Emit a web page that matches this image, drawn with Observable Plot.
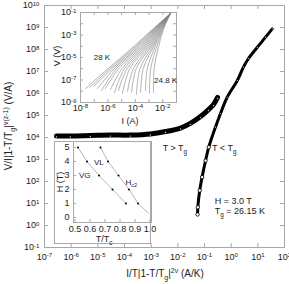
<!DOCTYPE html>
<html><head><meta charset="utf-8">
<script src="https://cdn.jsdelivr.net/npm/d3@7"></script>
<script src="https://cdn.jsdelivr.net/npm/@observablehq/plot@0.6"></script>
<style>
body{margin:0;background:#fff}
#fig{position:relative;width:289px;height:284px;font-family:"Liberation Sans",Arial,sans-serif}
#fig svg{position:absolute;overflow:visible}
</style></head><body><div id="fig"></div>
<script>
// Scaling collapse, log10 of x = I/T|1-T/Tg|^(2nu) and y = V/I|1-T/Tg|^(nu(z-1))
const aboveLogX = [-6.55,-6.03,-5.28,-4.53,-3.78,-3.03,-2.46,-1.90,-1.53,-1.15,-0.85,-0.66,-0.51];
const aboveLogY = [4.07,4.07,4.09,4.11,4.11,4.16,4.27,4.43,4.64,4.95,5.27,5.50,5.82];
const belowLogX = [-1.26,-1.25,-1.18,-1.09,-0.96,-0.84,-0.59,-0.40,-0.15,0.23,0.46,0.65,0.98,1.29,1.54];
const belowLogY = [0.50,0.83,1.59,2.20,2.95,3.56,4.47,5.09,5.83,6.59,7.20,7.59,8.10,8.56,8.94];
const xDecades = [-7,-6,-5,-4,-3,-2,-1,0,1,2];
const yDecades = [-1,0,1,2,3,4,5,6,7,8,9,10];

// I-V isotherms (log10 I in A, log10 V in V), 28 K down to 24.8 K
const ivTemps = [28.0,27.8,27.6,27.4,27.2,27.0,26.8,26.6,26.4,26.2,26.0,25.8,25.6,25.4,25.2,25.0,24.8];
const ivLogI = [
  [-7.64,-6.01,-4.10,-2.75,-1.45],[-7.34,-5.86,-3.98,-2.70,-1.45],[-7.05,-5.71,-3.86,-2.65,-1.45],
  [-6.76,-5.55,-3.74,-2.60,-1.45],[-6.47,-5.39,-3.62,-2.55,-1.45],[-6.18,-5.22,-3.50,-2.50,-1.45],
  [-5.81,-4.99,-3.39,-2.45,-1.45],[-5.52,-4.80,-3.28,-2.40,-1.45],[-5.23,-4.61,-3.17,-2.35,-1.45],
  [-4.94,-4.41,-3.06,-2.30,-1.45],[-4.57,-4.15,-2.95,-2.25,-1.45],[-4.28,-3.94,-2.85,-2.20,-1.45],
  [-3.92,-3.66,-2.75,-2.15,-1.45],[-3.62,-3.43,-2.65,-2.10,-1.45],[-3.26,-3.13,-2.55,-2.05,-1.45],
  [-2.97,-2.88,-2.43,-2.00,-1.45],[-2.68,-2.63,-2.30,-1.95,-1.45]];
const ivLogV = [
  [-7.76,-6,-4,-2.5,-1.1],[-7.67,-6,-4,-2.5,-1.1],[-7.58,-6,-4,-2.5,-1.1],
  [-7.76,-6,-4,-2.5,-1.1],[-7.93,-6,-4,-2.5,-1.1],[-7.76,-6,-4,-2.5,-1.1],
  [-7.84,-6,-4,-2.5,-1.1],[-8.11,-6,-4,-2.5,-1.1],[-7.93,-6,-4,-2.5,-1.1],
  [-8.20,-6,-4,-2.5,-1.1],[-8.02,-6,-4,-2.5,-1.1],[-8.11,-6,-4,-2.5,-1.1],
  [-8.29,-6,-4,-2.5,-1.1],[-8.11,-6,-4,-2.5,-1.1],[-7.93,-6,-4,-2.5,-1.1],
  [-8.20,-6,-4,-2.5,-1.1],[-8.11,-6,-4,-2.5,-1.1]];

// H-T phase diagram
const hgT = [0.52,0.58,0.66,0.75,0.84];
const hgH = [5,4,3,2,1];
const hc2T = [0.67,0.72,0.79,0.86,0.92,0.99];
const hc2H = [5,4,3,2,1,0.3];

const FONT = "Liberation Sans, Arial, sans-serif";
const FRAME = "#a8a8a8";
const INK = "#222";
const pow = e => Math.pow(10, e);
const sci = d => "10^" + Math.round(Math.log10(d));

const above = aboveLogX.map((e, i) => ({x: pow(e), y: pow(aboveLogY[i])}));
const below = belowLogX.map((e, i) => ({x: pow(e), y: pow(belowLogY[i])}));
const iv = ivTemps.flatMap((T, k) => ivLogI[k].map((e, j) => ({T, I: pow(e), V: pow(ivLogV[k][j])})));
const hg = hgT.map((t, i) => ({t, H: hgH[i]}));
const hc2 = hc2T.map((t, i) => ({t, H: hc2H[i]}));

// turn "10^n" tick strings into a base with a raised exponent
function supTicks(svg) {
  d3.select(svg).selectAll("g[aria-label$='tick label'] text").each(function () {
    const t = d3.select(this), s = t.text(), m = s.match(/^10\^(.+)$/);
    if (!m) return;
    t.text(null);
    t.append("tspan").text("10");
    t.append("tspan").attr("dy", "-0.45em").attr("font-size", "0.68em").text(m[1]);
  });
}
// rich text: parts are [string, "sup"|"sub"|""]
function rich(g, x, y, parts, fs, opts = {}) {
  const t = g.append("text").attr("x", x).attr("y", y).attr("font-size", fs)
    .attr("fill", INK).attr("font-family", FONT).attr("text-anchor", opts.anchor || "start");
  if (opts.rotate) t.attr("transform", `rotate(-90,${x},${y})`);
  let shift = 0;
  for (const [s, k] of parts) {
    const target = k === "sup" ? -fs * 0.42 : k === "sub" ? fs * 0.3 : 0;
    const ts = t.append("tspan").text(s).attr("dy", target - shift);
    if (k) ts.attr("font-size", fs * 0.7);
    shift = target;
  }
  return t;
}

const W = 289, H = 284;
const main = Plot.plot({
  width: W, height: H, marginLeft: 44, marginRight: 5, marginTop: 5, marginBottom: 37,
  style: {fontFamily: FONT, fontSize: "9px", color: INK, background: "transparent"},
  x: {type: "log", domain: [1e-7, 1e2]},
  y: {type: "log", domain: [1e-1, 1e10]},
  marks: [
    Plot.frame({stroke: FRAME}),
    Plot.tickY(yDecades.map(pow), {y: d => d, insetRight: 236, stroke: FRAME}),
    Plot.tickY(yDecades.map(pow), {y: d => d, insetLeft: 236, stroke: FRAME}),
    Plot.tickX(xDecades.map(pow), {x: d => d, insetTop: 238, stroke: FRAME}),
    Plot.tickX(xDecades.map(pow), {x: d => d, insetBottom: 238, stroke: FRAME}),
    Plot.axisY(yDecades.map(pow), {tickSize: 0, tickPadding: 5, tickFormat: sci, label: null}),
    Plot.axisX(xDecades.map(pow), {tickSize: 0, tickPadding: 6, tickFormat: sci, label: null}),
    Plot.line(above, {x: "x", y: "y", stroke: "#000", strokeWidth: 5, curve: "catmull-rom"}),
    Plot.dot(above, {x: "x", y: "y", r: 0.7, fill: "#ccc", dy: 1}),
    Plot.line(below, {x: "x", y: "y", stroke: "#000", strokeWidth: 3, curve: "catmull-rom"}),
    Plot.dot(below.filter(d => d.y < 1e4), {x: "x", y: "y", r: 1.7, fill: "#fff", stroke: "#000", strokeWidth: 0.8}),
    Plot.dot(below.filter(d => d.y >= 1e4), {x: "x", y: "y", r: 0.6, fill: "#ccc"})
  ]
});
main.style.left = "0px"; main.style.top = "0px";
document.getElementById("fig").appendChild(main);
supTicks(main);
{
  const g = d3.select(main).append("g");
  const sx = main.scale("x"), sy = main.scale("y");
  rich(g, 165, 277, [["I/T|1-T/T", ""], ["g", "sub"], ["|", ""], ["2\u03BD", "sup"], [" (A/K)", ""]], 10, {anchor: "middle"});
  rich(g, 12, 126, [["V/I|1-T/T", ""], ["g", "sub"], ["|", ""], ["\u03BD(z-1)", "sup"], [" (V/A)", ""]], 10, {anchor: "middle", rotate: true});
  rich(g, sx.apply(pow(-2.55)), sy.apply(pow(3.35)), [["T > T", ""], ["g", "sub"]], 9);
  rich(g, sx.apply(pow(-0.7)), sy.apply(pow(3.35)), [["T < T", ""], ["g", "sub"]], 9);
  rich(g, sx.apply(pow(-0.6)), sy.apply(pow(0.95)), [["H = 3.0 T", ""]], 9);
  rich(g, sx.apply(pow(-0.6)), sy.apply(pow(0.5)), [["T", ""], ["g", "sub"], [" = 26.15 K", ""]], 9);
}

// inset: I-V curves
const ivPlot = Plot.plot({
  width: 140, height: 125, marginLeft: 40, marginRight: 4, marginTop: 12, marginBottom: 23,
  style: {fontFamily: FONT, fontSize: "9px", color: INK, background: "transparent"},
  x: {type: "log", domain: [1e-8, 1e-1]},
  y: {type: "log", domain: [1e-9, 1e-1]},
  marks: [
    Plot.frame({stroke: FRAME}),
    Plot.tickY(d3.range(-9, 0).map(pow), {y: d => d, insetRight: 93, stroke: FRAME}),
    Plot.tickY(d3.range(-9, 0).map(pow), {y: d => d, insetLeft: 93, stroke: FRAME}),
    Plot.tickX(d3.range(-8, 0).map(pow), {x: d => d, insetTop: 87, stroke: FRAME}),
    Plot.tickX(d3.range(-8, 0).map(pow), {x: d => d, insetBottom: 87, stroke: FRAME}),
    Plot.axisY([-1, -3, -5, -7, -9].map(pow), {tickSize: 0, tickPadding: 4, tickFormat: sci, label: null}),
    Plot.axisX([-8, -6, -4, -2].map(pow), {tickSize: 0, tickPadding: 2, tickFormat: sci, label: null}),
    Plot.line(iv, {x: "I", y: "V", z: "T", stroke: "#808080", strokeWidth: 0.6, curve: "catmull-rom"})
  ]
});
ivPlot.style.left = "40px"; ivPlot.style.top = "0px";
document.getElementById("fig").appendChild(ivPlot);
supTicks(ivPlot);
{
  const g = d3.select(ivPlot).append("g");
  const sx = ivPlot.scale("x"), sy = ivPlot.scale("y");
  rich(g, 20, 56, [["V (V)", ""]], 9, {anchor: "middle", rotate: true});
  rich(g, 90, 124, [["I (A)", ""]], 9, {anchor: "middle"});
  rich(g, sx.apply(pow(-7.0)), sy.apply(pow(-5.3)), [["28 K", ""]], 8);
  rich(g, sx.apply(pow(-2.6)), sy.apply(pow(-7.3)), [["24.8 K", ""]], 8);
}

// inset: H-T phase diagram
const ht = Plot.plot({
  width: 97, height: 103, marginLeft: 19, marginRight: 0, marginTop: 0, marginBottom: 22,
  style: {fontFamily: FONT, fontSize: "9px", color: INK, background: "#fff"},
  x: {domain: [0.49, 1.01]},
  y: {domain: [-0.36, 5.43]},
  marks: [
    Plot.frame({stroke: FRAME}),
    Plot.tickY([0, 1, 2, 3, 4, 5], {y: d => d, insetRight: 75, stroke: FRAME}),
    Plot.tickX([0.5, 0.6, 0.7, 0.8, 0.9, 1.0], {x: d => d, insetTop: 78, stroke: FRAME}),
    Plot.axisY([0, 1, 2, 3, 4, 5], {tickSize: 0, tickPadding: 4, label: null}),
    Plot.axisX([0.5, 0.6, 0.7, 0.8, 0.9, 1.0], {tickSize: 0, tickPadding: 3, tickFormat: d3.format(".1f"), label: null}),
    Plot.line(hg, {x: "t", y: "H", stroke: "#999", strokeWidth: 0.7}),
    Plot.line(hc2, {x: "t", y: "H", stroke: "#999", strokeWidth: 0.7}),
    Plot.dot(hg, {x: "t", y: "H", r: 1, fill: "#000"}),
    Plot.dot(hc2.slice(0, 5), {x: "t", y: "H", r: 1, fill: "#000"})
  ]
});
ht.style.left = "54px"; ht.style.top = "141px";
document.getElementById("fig").appendChild(ht);
{
  const g = d3.select(ht).append("g");
  const sx = ht.scale("x"), sy = ht.scale("y");
  g.append("rect").attr("x", 0.5).attr("y", 0.5).attr("width", 96).attr("height", 102)
    .attr("fill", "none").attr("stroke", FRAME);
  rich(g, 9, 41, [["H (T)", ""]], 9, {anchor: "middle", rotate: true});
  rich(g, 50, 101, [["T/T", ""], ["c", "sub"]], 9, {anchor: "middle"});
  rich(g, sx.apply(0.63), sy.apply(3.7), [["VL", ""]], 8);
  rich(g, sx.apply(0.53), sy.apply(2.8), [["VG", ""]], 8);
  rich(g, sx.apply(0.84), sy.apply(2.3), [["H", ""], ["c2", "sub"]], 8);
}
</script></body></html>
